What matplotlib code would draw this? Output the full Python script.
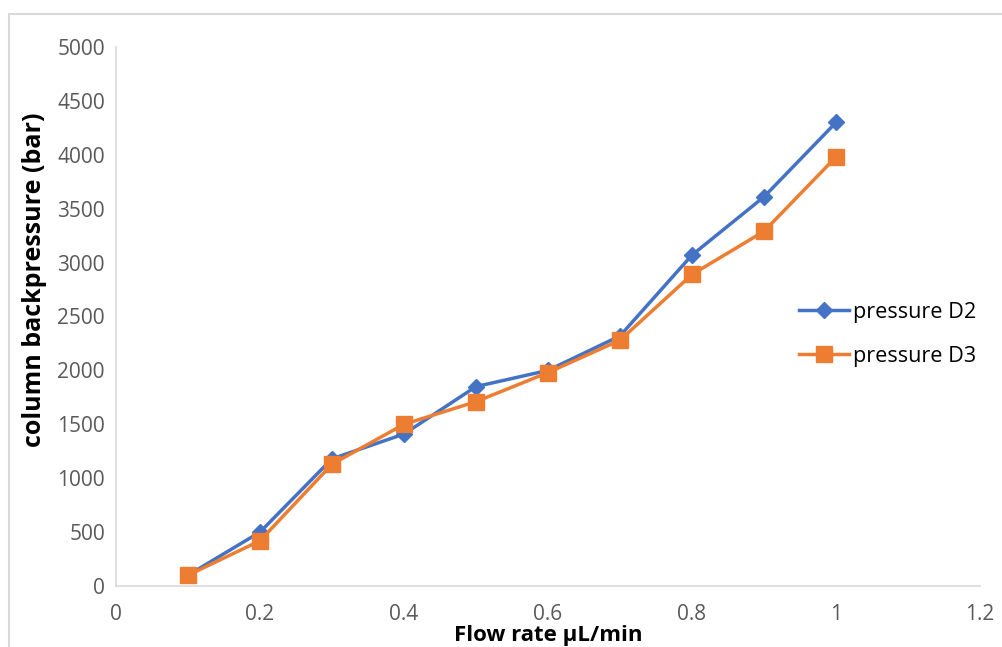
import matplotlib
matplotlib.use("Agg")
import matplotlib.pyplot as plt
from matplotlib.patches import Rectangle

plt.rcParams['font.family'] = ['Open Sans', 'DejaVu Sans']

flow_rate = [0.1, 0.2, 0.3, 0.4, 0.5, 0.6, 0.7, 0.8, 0.9, 1.0]
pressure_d2 = [100, 500, 1180, 1410, 1850, 2000, 2320, 3070, 3610, 4300]
pressure_d3 = [100, 420, 1130, 1500, 1710, 1980, 2280, 2890, 3290, 3980]
x_ticks = [0, 0.2, 0.4, 0.6, 0.8, 1.0, 1.2]
x_tick_labels = ["0", "0.2", "0.4", "0.6", "0.8", "1", "1.2"]
y_ticks = [0, 500, 1000, 1500, 2000, 2500, 3000, 3500, 4000, 4500, 5000]

W, H = 1002, 647
fig = plt.figure(figsize=(W / 100, H / 100), dpi=100)
fig.patches.append(Rectangle((9 / W, -0.1), 1.2, (H - 14) / H + 0.1, transform=fig.transFigure,
                             fill=False, edgecolor='#D9D9D9', linewidth=1.5))

ax = fig.add_axes([116 / W, (H - 586) / H, (980 - 116) / W, (586 - 47) / H])

blue = '#4472C4'
orange = '#ED7D31'
ax.plot(flow_rate, pressure_d2, color=blue, linewidth=2.5, marker='D', markersize=8,
        label='pressure D2', zorder=3)
ax.plot(flow_rate, pressure_d3, color=orange, linewidth=2.5, marker='s', markersize=11,
        label='pressure D3', zorder=4)

ax.set_xlim(0, 1.2)
ax.set_ylim(0, 5000)
ax.set_xticks(x_ticks)
ax.set_xticklabels(x_tick_labels)
ax.set_yticks(y_ticks)
for s in ['top', 'right']:
    ax.spines[s].set_visible(False)
for s in ['left', 'bottom']:
    ax.spines[s].set_color('#D9D9D9')
    ax.spines[s].set_linewidth(1.2)
ax.tick_params(length=0, labelsize=15, labelcolor='#595959')
ax.tick_params(axis='x', pad=13)
ax.tick_params(axis='y', pad=8)

ax.set_ylabel('column backpressure (bar)', fontsize=18, fontweight='bold', color='black')
ax.yaxis.set_label_coords(-0.080, 0.568)
ax.set_xlabel('Flow rate µL/min', fontsize=16, fontweight='bold', color='black')
ax.xaxis.set_label_coords(0.5, -0.073)

leg = ax.legend(loc='center left', bbox_to_anchor=(0.768, 0.467), frameon=False, fontsize=15.6,
                handlelength=2.3, labelspacing=1.05, handletextpad=0.2)

fig.savefig('out.png', dpi=100)
